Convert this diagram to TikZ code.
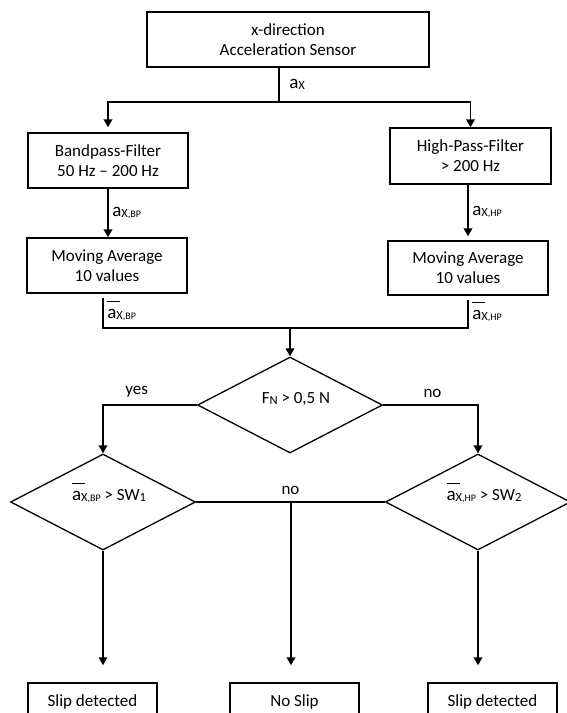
\documentclass[tikz,border=0pt]{standalone}
\usepackage{fontspec}
\setmainfont{Carlito}
\usetikzlibrary{shapes.geometric, arrows.meta}

\newcommand{\accel}{{\fontsize{19}{20}\selectfont a}}
\newcommand{\sig}[1]{\raisebox{-1pt}{{\fontsize{12.5}{12}\selectfont X}{\fontsize{10}{10}\selectfont #1}}}
\newcommand{\abar}{\rlap{\raisebox{16pt}{\rule{13pt}{0.8pt}}}\accel}
\newcommand{\lowsub}[1]{\raisebox{-1.5pt}{\fontsize{12.5}{12}\selectfont #1}}

\begin{document}
\begin{tikzpicture}[x=1pt, y=-1pt,
    every node/.style={font=\fontsize{17}{20}\selectfont},
    block/.style={rectangle, draw, line width=1.4pt, align=center, inner sep=0pt},
    decision/.style={diamond, draw, line width=1.3pt, aspect=2, inner sep=0pt,
        minimum width=185pt, minimum height=96pt, text height=8pt, text depth=12pt,
        execute at begin node=\hspace*{12pt}},
    answer/.style={above, yshift=3pt},
    conn/.style={line width=1.9pt},
    arrow/.style={conn, -{Triangle[length=8pt, width=8.5pt]}}]

    \useasboundingbox (0,0) rectangle (567,713);

    % Sensor, filters and averaging
    \node[block, minimum width=282pt, minimum height=55pt] (sensor) at (288,39.5) {x-direction\\Acceleration Sensor};
    \node[block, minimum width=160pt, minimum height=55pt] (bp) at (108,160.5) {Bandpass-Filter\\50 Hz -- 200 Hz};
    \node[block, minimum width=161pt, minimum height=56pt] (hp) at (470.5,156) {High-Pass-Filter\\> 200 Hz};
    \node[block, minimum width=160pt, minimum height=55pt] (avgbp) at (107,265.5) {Moving Average\\10 values};
    \node[block, minimum width=160pt, minimum height=54pt] (avghp) at (468,268) {Moving Average\\10 values};

    % Decisions
    \node[decision] (force) at (290,405) {F\lowsub{N} > 0,5 N};
    \node[decision] (thrbp) at (103,502) {\abar\sig{,BP} > SW\lowsub{1}};
    \node[decision] (thrhp) at (478,502) {\abar\sig{,HP} > SW\lowsub{2}};

    % Results
    \node[block, minimum width=129pt, minimum height=38pt] (slipbp) at (92.5,702) {Slip detected};
    \node[block, minimum width=129pt, minimum height=38pt] (noslip) at (294.5,702) {No Slip};
    \node[block, minimum width=129pt, minimum height=38pt] (sliphp) at (492.5,702) {Slip detected};

    % Junctions
    \coordinate (split) at (279,102);
    \coordinate (merge) at (290,328);
    \coordinate (nomid) at (291,502);

    % Connections
    \draw[conn] (sensor.south -| split) -- node[right, xshift=6pt] {\accel\sig{}} (split);
    \draw[arrow, shorten >=5pt] (split) -| (bp.north);
    \draw[arrow] (split) -| (hp.north);
    \draw[arrow] (bp.south) -- node[right] {\accel\sig{,BP}} (bp.south |- avgbp.north);
    \draw[arrow, shorten >=4pt] (avghp.north |- hp.south) -- node[right] {\accel\sig{,HP}} (avghp.north);
    \draw[conn, shorten <=4pt] (avgbp.south -| thrbp.north) |- node[right, pos=0.25] {\abar\sig{,BP}} (merge);
    \draw[conn, shorten <=4pt] (avghp.south) |- node[right, pos=0.25] {\abar\sig{,HP}} (merge);
    \draw[arrow] (merge) -- (force.north);
    \draw[arrow] (force.west) -| node[answer, pos=0.32] {yes} (thrbp.north);
    \draw[arrow] (force.east) -| node[answer, pos=0.26] {no} (thrhp.north);
    \draw[conn] (thrbp.east) -- node[answer] {no} (thrhp.west);
    \draw[arrow, shorten >=17pt] (nomid) -- (nomid |- noslip.north);
    \draw[arrow, shorten >=17pt] (thrbp.south) -- (thrbp.south |- slipbp.north);
    \draw[arrow, shorten >=17pt] (thrhp.south) -- (thrhp.south |- sliphp.north);
\end{tikzpicture}
\end{document}
